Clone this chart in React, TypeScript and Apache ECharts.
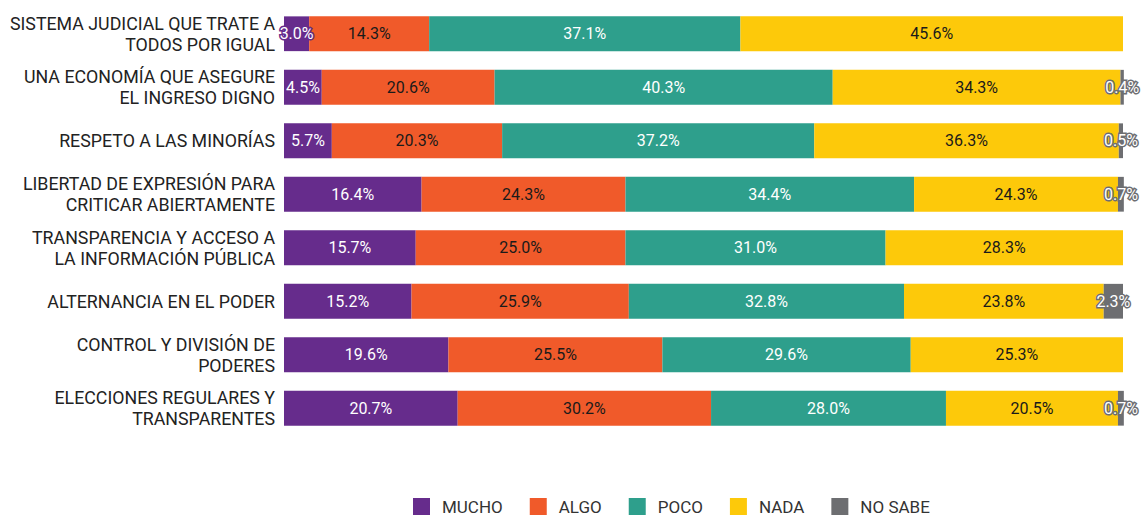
import React, { useEffect, useRef } from "react";
import * as echarts from "echarts";

const categories = [
  "SISTEMA JUDICIAL QUE TRATE A\nTODOS POR IGUAL",
  "UNA ECONOMÍA QUE ASEGURE\nEL INGRESO DIGNO",
  "RESPETO A LAS MINORÍAS",
  "LIBERTAD DE EXPRESIÓN PARA\nCRITICAR ABIERTAMENTE",
  "TRANSPARENCIA Y ACCESO A\nLA INFORMACIÓN PÚBLICA",
  "ALTERNANCIA EN EL PODER",
  "CONTROL Y DIVISIÓN DE\nPODERES",
  "ELECCIONES REGULARES Y\nTRANSPARENTES",
];

const mucho = [3.0, 4.5, 5.7, 16.4, 15.7, 15.2, 19.6, 20.7];
const algo = [14.3, 20.6, 20.3, 24.3, 25.0, 25.9, 25.5, 30.2];
const poco = [37.1, 40.3, 37.2, 34.4, 31.0, 32.8, 29.6, 28.0];
const nada = [45.6, 34.3, 36.3, 24.3, 28.3, 23.8, 25.3, 20.5];
const noSabe = [0, 0.4, 0.5, 0.7, 0, 2.3, 0, 0.7];

const seriesNames = ["MUCHO", "ALGO", "POCO", "NADA", "NO SABE"];
const seriesData = [mucho, algo, poco, nada, noSabe];
const colors = ["#662c8c", "#f05a2a", "#2e9f8c", "#fdc90a", "#6d6e71"];
const labelColors = ["#ffffff", "#1a1a1a", "#ffffff", "#1a1a1a", "#ffffff"];

export default function App() {
  const ref = useRef<HTMLDivElement>(null);
  useEffect(() => {
    document.body.style.margin = "0";
    if (!ref.current) return;
    const chart = echarts.init(ref.current, null, { renderer: "svg" });
    chart.setOption({
      animation: false,
      textStyle: { fontFamily: "Roboto" },
      grid: { left: 284, right: 19, top: 7, height: 428, containLabel: false },
      xAxis: {
        type: "value",
        min: 0,
        max: 100,
        show: false,
      },
      yAxis: {
        type: "category",
        inverse: true,
        data: categories,
        axisLine: { show: false },
        axisTick: { show: false },
        axisLabel: {
          color: "#222222",
          fontSize: 17.8,
          lineHeight: 21,
          fontFamily: "Roboto",
          margin: 9,
          align: "right",
        },
      },
      legend: {
        top: 498,
        left: 413,
        padding: 0,
        itemWidth: 17,
        itemHeight: 17,
        itemGap: 27,
        icon: "rect",
        textStyle: {
          fontSize: 17,
          lineHeight: 17,
          color: "#333333",
          fontFamily: "Roboto",
          padding: [0, 0, 0, 7],
        },
        data: seriesNames,
      },
      series: seriesData.map((d, i) => ({
        name: seriesNames[i],
        type: "bar",
        stack: "total",
        barWidth: "65%",
        clip: false,
        data: d.map((v) => (v === 0 ? null : v)),
        itemStyle: { color: colors[i] },
        label: {
          show: true,
          position: "inside",
          formatter: (p: any) => (p.value == null ? "" : p.value.toFixed(1) + "%"),
          color: labelColors[i],
          fontSize: 16,
          fontFamily: "Roboto",
          textBorderColor: colors[i],
          textBorderWidth: i === 0 || i === 4 ? 3 : 0,
        },
      })),
    });
    return () => chart.dispose();
  }, []);
  return <div ref={ref} style={{ width: 1142, height: 515 }} />;
}
